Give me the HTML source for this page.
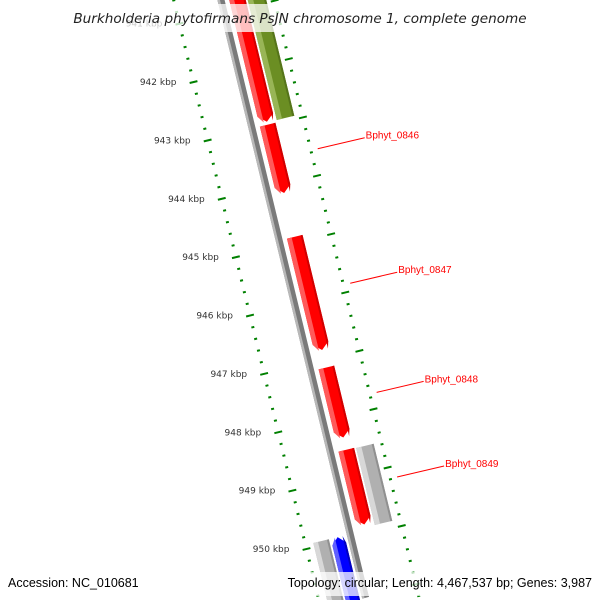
<!DOCTYPE html>
<html><head><meta charset="utf-8"><style>
html,body{margin:0;padding:0;background:#fff;width:600px;height:600px;overflow:hidden}
svg{display:block;font-family:"DejaVu Sans","Liberation Sans",sans-serif}
</style></head><body>
<svg id="map" width="600" height="600" viewBox="0 0 600 600" overflow="hidden">
<g id="rot" transform="translate(221,0) rotate(-13.6)"></g>
<g id="overlay"></g>
<rect x="68" y="4" width="464" height="28" fill="#fff" fill-opacity="0.75"/>
<text x="300" y="23" text-anchor="middle" font-size="13.6" font-style="italic" fill="#222">Burkholderia phytofirmans PsJN chromosome 1, complete genome</text>
<rect x="258" y="572" width="338" height="24" fill="#fff" fill-opacity="0.75"/>
<text x="8" y="587" font-size="12.5" fill="#000" style="font-family:'Liberation Sans',sans-serif">Accession: NC_010681</text>
<text x="592" y="587" text-anchor="end" font-size="12.5" fill="#000" style="font-family:'Liberation Sans',sans-serif">Topology: circular; Length: 4,467,537 bp; Genes: 3,987</text>
</svg>
<script>
const geneNames = ["gene-a","gene-b","Bphyt_0846","Bphyt_0847","Bphyt_0848","Bphyt_0849","gene-grey-right","gene-blue","gene-grey-left"];
const geneStart = [940.3,940.3,942.98,944.90,947.14,948.55,948.56,949.93,949.93];
const geneEnd   = [942.93,942.94,944.15,946.84,948.34,949.83,949.88,952.5,952.5];
const geneStrand= [1,0,1,1,1,1,0,-1,0];
const geneTrack = [1,2,1,1,1,1,2,-1,-2];
const geneColor = ["red","olive","red","red","red","red","grey","blue","grey"];
const geneLabeled=[false,false,true,true,true,true,false,false,false];
const tickStart = 940.6, tickEnd = 951.2;

const NS="http://www.w3.org/2000/svg";
const S0=73.3, PX=60.05, TH=13.6*Math.PI/180;
const sOf=k=>S0+(k-942)*PX;
const scr=(v,s)=>[221+v*Math.cos(TH)+s*Math.sin(TH), -v*Math.sin(TH)+s*Math.cos(TH)];
const rot=document.getElementById('rot'), ov=document.getElementById('overlay');
function mk(t,a,p){const e=document.createElementNS(NS,t);for(const k in a)e.setAttribute(k,a[k]);(p||rot).appendChild(e);return e;}
const palette={red:["#ff0000","#ff5a5a","#d00000"],olive:["#6b8e23","#98b556","#55741a"],grey:["#b0b0b0","#d8d8d8","#909090"],blue:["#0000ff","#6060ff","#0000c0"]};
const trackV={1:[8,24],2:[26,44],"-1":[-20,-6],"-2":[-38,-22]};

let bb=mk('rect',{x:-3.5,y:-10,width:7,height:625,fill:'#7a7a7a'});


let bb2=mk('rect',{x:-3.5,y:-10,width:2.5,height:625,fill:'#b8b8b8'});



for(let i=0;;i++){
  const k=Math.round((tickStart+i*0.2)*10)/10; if(k>tickEnd)break;
  const s=sOf(k), major=Math.abs(k-Math.round(k))<1e-6;
  const l=mk('line',{x1:major?-50:-47.5,x2:major?-42:-44.5,y1:s,y2:s,stroke:'#008000','stroke-width':2});
  
  
  const r=mk('line',{x1:major?48:50.5,x2:major?56:53.5,y1:s,y2:s,stroke:'#008000','stroke-width':2});
  
  
  if(major){
    const p=scr(-46,s);
    const t=mk('text',{x:p[0]-17,y:p[1]+3,'text-anchor':'end','font-size':9,fill:'#333'},ov);
    t.textContent=Math.round(k)+' kbp';
    
    
  }
}

geneNames.forEach((n,i)=>{
  const [v0,v1]=trackV[geneTrack[i]], s0=sOf(geneStart[i]), s1=sOf(geneEnd[i]);
  const c=palette[geneColor[i]], vm=(v0+v1)/2, tip=7;
  let pts;
  if(geneStrand[i]===1) pts=[[v0,s0],[v1,s0],[v1,s1-tip],[vm,s1],[v0,s1-tip]];
  else if(geneStrand[i]===-1) pts=[[vm,s0],[v1,s0+tip],[v1,s1],[v0,s1],[v0,s0+tip]];
  else pts=[[v0,s0],[v1,s0],[v1,s1],[v0,s1]];
  const g=mk('g',{});
  
  
  mk('polygon',{points:pts.map(p=>p.join(',')).join(' '),fill:c[0]},g);
  const w=v1-v0, hv=v0+w*0.3;
  mk('polygon',{points:pts.map(p=>[Math.min(p[0],hv),p[1]].join(',')).join(' '),fill:c[1]},g);
  const dv=v1-2;
  mk('polygon',{points:pts.map(p=>[Math.max(p[0],dv),p[1]].join(',')).join(' '),fill:c[2]},g);
  if(geneLabeled[i]){
    const sm=(s0+s1)/2, a=scr(59,sm), b=[a[0]+47,a[1]-11];
    const ln=mk('line',{x1:a[0],y1:a[1],x2:b[0],y2:b[1],stroke:'#ff0000','stroke-width':1},ov);
    
    
    const t=mk('text',{x:b[0]+1,y:b[1]+1,'font-size':10,fill:'#ff0000',style:"font-family:'Liberation Sans',sans-serif"},ov);
    t.textContent=n;
    
    
  }
});
</script>
</body></html>
